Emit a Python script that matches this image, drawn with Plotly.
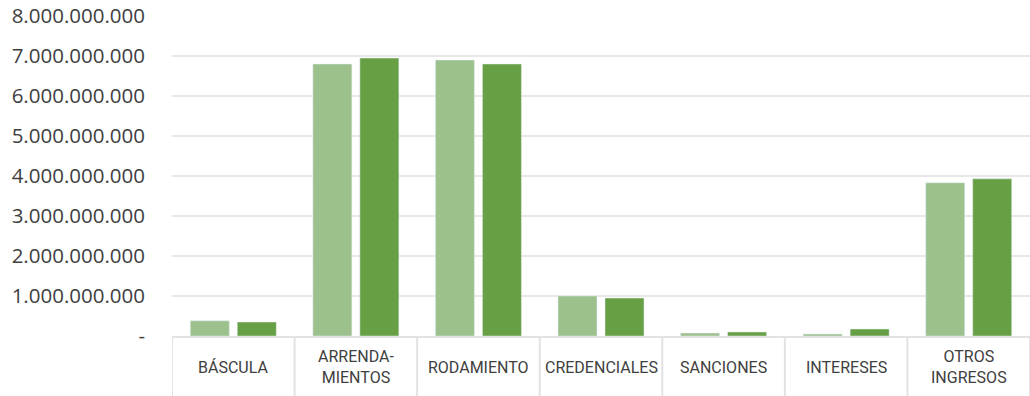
import plotly.graph_objects as go

# --- Data ---
CATEGORIES = ['BÁSCULA', 'ARRENDA-<br>MIENTOS', 'RODAMIENTO', 'CREDENCIALES',
              'SANCIONES', 'INTERESES', 'OTROS<br>INGRESOS']
SERIES_A = [380_000_000, 6_800_000_000, 6_900_000_000, 1_000_000_000,
            75_000_000, 50_000_000, 3_830_000_000]
SERIES_B = [350_000_000, 6_950_000_000, 6_800_000_000, 950_000_000,
            100_000_000, 175_000_000, 3_930_000_000]
SERIES_NAMES = ['Periodo 1', 'Periodo 2']
Y_TICKS = [0, 1e9, 2e9, 3e9, 4e9, 5e9, 6e9, 7e9, 8e9]
Y_TICK_TEXT = ['-', '1.000.000.000', '2.000.000.000', '3.000.000.000', '4.000.000.000',
               '5.000.000.000', '6.000.000.000', '7.000.000.000', '8.000.000.000']

# --- Style ---
COLOR_LIGHT = '#9dc18d'
COLOR_DARK = '#67a044'
BOX_COLOR = '#e2e2e2'
TEXT_COLOR = '#404040'

x_idx = list(range(len(CATEGORIES)))

fig = go.Figure()
fig.add_trace(go.Bar(x=x_idx, y=SERIES_A, name=SERIES_NAMES[0], marker_color=COLOR_LIGHT))
fig.add_trace(go.Bar(x=x_idx, y=SERIES_B, name=SERIES_NAMES[1], marker_color=COLOR_DARK))

# category label boxes under the plot
for i in range(len(CATEGORIES) + 1):
    fig.add_shape(type='line', xref='x', yref='paper', x0=i - 0.5, x1=i - 0.5,
                  y0=0, y1=-0.2, line=dict(color=BOX_COLOR, width=2))
for i, label in enumerate(CATEGORIES):
    fig.add_annotation(x=i, y=0, xref='x', yref='paper', text=label, showarrow=False,
                       yanchor='middle', yshift=-31,
                       font=dict(family='Roboto', size=16, color=TEXT_COLOR))

fig.update_layout(
    width=1030, height=396,
    margin=dict(l=172, r=0, t=16, b=60, autoexpand=False),
    barmode='group', bargap=0.233, bargroupgap=0.17,
    plot_bgcolor='white', paper_bgcolor='white',
    showlegend=False,
)
fig.update_xaxes(range=[-0.5, len(CATEGORIES) - 0.5], showticklabels=False,
                 showgrid=False, zeroline=False, automargin=False,
                 showline=True, linecolor=BOX_COLOR, linewidth=2)
fig.update_yaxes(range=[0, 8e9], tickvals=Y_TICKS, ticktext=Y_TICK_TEXT,
                 showgrid=True, gridcolor='#e8e8e8', gridwidth=2,
                 zeroline=False, ticks='', ticklabelstandoff=26, automargin=False,
                 ticklabeloverflow='allow',
                 tickfont=dict(family='Open Sans', size=20.5, color=TEXT_COLOR))

# drop the default body margin so the figure fills the window exactly
fig.write_html("out.html", config={'displayModeBar': False},
               post_script="document.body.style.margin='0';")
